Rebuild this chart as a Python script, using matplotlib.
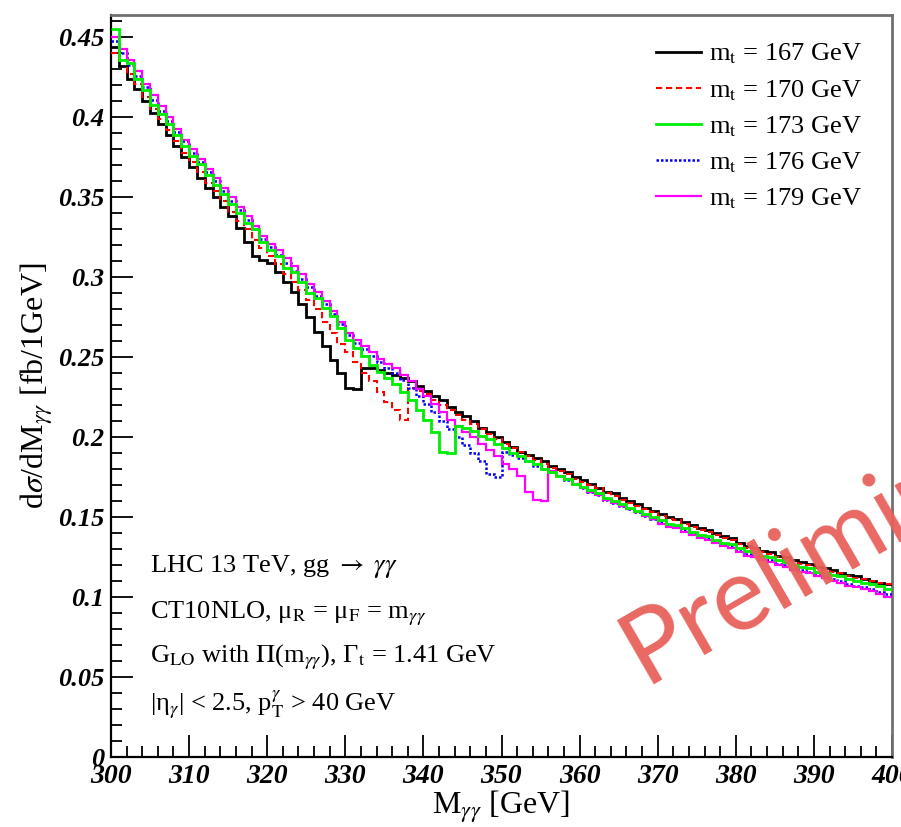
import numpy as np
import matplotlib
matplotlib.use("Agg")
import matplotlib.pyplot as plt
from matplotlib.ticker import MultipleLocator, FuncFormatter

plt.rcParams['font.family'] = ['Liberation Serif', 'DejaVu Serif']
plt.rcParams['mathtext.fontset'] = 'stix'

# ---------------- data (1 GeV bins, 300..400 GeV) ----------------
bin_edges_start = 300
bin_edges_stop = 400

mt167 = [0.444, 0.432, 0.424, 0.418, 0.410, 0.403, 0.396, 0.389, 0.382, 0.375,
         0.369, 0.362, 0.356, 0.350, 0.344, 0.338, 0.331, 0.322, 0.313, 0.311,
         0.309, 0.303, 0.297, 0.291, 0.283, 0.275, 0.266, 0.257, 0.248, 0.240,
         0.231, 0.230, 0.243, 0.243, 0.242, 0.240, 0.239, 0.237, 0.235, 0.232,
         0.229, 0.226, 0.223, 0.219, 0.216, 0.213, 0.210, 0.206, 0.203, 0.200,
         0.197, 0.194, 0.191, 0.189, 0.187, 0.185, 0.182, 0.180, 0.178, 0.175,
         0.173, 0.171, 0.168, 0.166, 0.165, 0.162, 0.160, 0.158, 0.156, 0.154,
         0.152, 0.150, 0.149, 0.147, 0.145, 0.143, 0.142, 0.140, 0.138, 0.137,
         0.134, 0.132, 0.131, 0.129, 0.128, 0.126, 0.125, 0.123, 0.122, 0.121,
         0.119, 0.118, 0.117, 0.115, 0.114, 0.113, 0.111, 0.110, 0.109, 0.108]

mt170 = [0.440, 0.436, 0.427, 0.421, 0.413, 0.405, 0.399, 0.392, 0.385, 0.378,
         0.372, 0.366, 0.359, 0.354, 0.348, 0.341, 0.335, 0.330, 0.323, 0.318,
         0.313, 0.308, 0.302, 0.297, 0.292, 0.286, 0.280, 0.272, 0.265, 0.258,
         0.253, 0.247, 0.240, 0.235, 0.228, 0.222, 0.217, 0.211, 0.231, 0.229,
         0.227, 0.223, 0.220, 0.217, 0.214, 0.211, 0.208, 0.205, 0.202, 0.199,
         0.196, 0.193, 0.191, 0.188, 0.186, 0.183, 0.181, 0.179, 0.177, 0.174,
         0.172, 0.170, 0.168, 0.165, 0.163, 0.161, 0.159, 0.157, 0.155, 0.153,
         0.151, 0.149, 0.148, 0.146, 0.144, 0.142, 0.141, 0.139, 0.137, 0.136,
         0.133, 0.131, 0.130, 0.128, 0.127, 0.125, 0.124, 0.122, 0.121, 0.120,
         0.118, 0.117, 0.116, 0.115, 0.113, 0.112, 0.111, 0.110, 0.109, 0.108]

mt173 = [0.455, 0.436, 0.434, 0.424, 0.417, 0.408, 0.402, 0.396, 0.389, 0.382,
         0.376, 0.371, 0.364, 0.358, 0.352, 0.346, 0.340, 0.334, 0.330, 0.322,
         0.317, 0.313, 0.306, 0.303, 0.297, 0.290, 0.287, 0.281, 0.276, 0.268,
         0.261, 0.256, 0.251, 0.245, 0.241, 0.237, 0.233, 0.228, 0.223, 0.217,
         0.211, 0.203, 0.191, 0.190, 0.207, 0.206, 0.204, 0.201, 0.199, 0.196,
         0.193, 0.190, 0.188, 0.185, 0.183, 0.180, 0.178, 0.176, 0.174, 0.171,
         0.169, 0.167, 0.165, 0.162, 0.160, 0.158, 0.156, 0.154, 0.152, 0.150,
         0.148, 0.146, 0.145, 0.143, 0.141, 0.139, 0.138, 0.136, 0.134, 0.133,
         0.131, 0.129, 0.128, 0.126, 0.125, 0.123, 0.122, 0.120, 0.119, 0.118,
         0.116, 0.115, 0.114, 0.113, 0.111, 0.110, 0.109, 0.108, 0.107, 0.105]

mt176 = [0.448, 0.440, 0.433, 0.426, 0.419, 0.411, 0.404, 0.398, 0.391, 0.385,
         0.378, 0.372, 0.366, 0.360, 0.354, 0.348, 0.342, 0.336, 0.330, 0.324,
         0.319, 0.314, 0.309, 0.304, 0.299, 0.294, 0.288, 0.283, 0.277, 0.271,
         0.264, 0.259, 0.255, 0.251, 0.247, 0.243, 0.240, 0.236, 0.231, 0.226,
         0.221, 0.216, 0.210, 0.205, 0.200, 0.195, 0.190, 0.185, 0.177, 0.175,
         0.191, 0.189, 0.187, 0.185, 0.182, 0.180, 0.178, 0.176, 0.173, 0.171,
         0.168, 0.166, 0.164, 0.161, 0.159, 0.157, 0.155, 0.153, 0.151, 0.149,
         0.147, 0.145, 0.144, 0.142, 0.140, 0.138, 0.137, 0.135, 0.133, 0.132,
         0.129, 0.127, 0.126, 0.124, 0.123, 0.121, 0.120, 0.118, 0.117, 0.116,
         0.114, 0.113, 0.111, 0.110, 0.108, 0.107, 0.106, 0.105, 0.103, 0.102]

mt179 = [0.450, 0.443, 0.436, 0.429, 0.421, 0.414, 0.407, 0.400, 0.393, 0.386,
         0.380, 0.374, 0.368, 0.362, 0.356, 0.350, 0.344, 0.338, 0.332, 0.326,
         0.321, 0.317, 0.312, 0.307, 0.302, 0.296, 0.291, 0.285, 0.279, 0.272,
         0.265, 0.261, 0.257, 0.253, 0.249, 0.246, 0.243, 0.239, 0.235, 0.230,
         0.226, 0.221, 0.216, 0.211, 0.207, 0.203, 0.200, 0.196, 0.192, 0.188,
         0.183, 0.180, 0.176, 0.166, 0.161, 0.160, 0.179, 0.176, 0.174, 0.171,
         0.168, 0.166, 0.164, 0.161, 0.159, 0.157, 0.155, 0.153, 0.151, 0.149,
         0.146, 0.144, 0.143, 0.141, 0.139, 0.137, 0.136, 0.134, 0.132, 0.131,
         0.128, 0.126, 0.125, 0.123, 0.122, 0.120, 0.119, 0.117, 0.116, 0.115,
         0.113, 0.112, 0.110, 0.109, 0.107, 0.106, 0.105, 0.104, 0.102, 0.100]

labels = ["167", "170", "173", "176", "179"]
x_ticks = [300, 310, 320, 330, 340, 350, 360, 370, 380, 390, 400]
y_ticks = [0, 0.05, 0.1, 0.15, 0.2, 0.25, 0.3, 0.35, 0.4, 0.45]

# ---------------- figure ----------------
W, H = 901, 827
fig = plt.figure(figsize=(W / 100, H / 100), dpi=100)
L, R, T, B = 111, 892, 15, 757
ax = fig.add_axes([L / W, 1 - B / H, (R - L) / W, (B - T) / H])

edges = np.arange(bin_edges_start, bin_edges_stop + 1)
series = [mt167, mt170, mt173, mt176, mt179]
colors = ['#000000', '#ff0000', '#00ee00', '#0000ff', '#ff00ff']
styles = ['-', (0, (3.0, 1.8)), '-', (0, (1.0, 0.8)), '-']
widths = [2.0, 1.5, 2.0, 1.8, 1.6]
zorders = [3, 3, 5, 4, 4]

handles = []
for vals, c, ls, lw, z, lab in zip(series, colors, styles, widths, zorders, labels):
    h = ax.stairs(vals, edges, baseline=None, color=c, linestyle=ls,
                  linewidth=lw, zorder=z, label=f"m$_{{\\mathrm{{t}}}}$ = {lab} GeV")
    handles.append(h)

ax.set_xlim(300, 400)
ax.set_ylim(0, 0.464)

ax.xaxis.set_minor_locator(MultipleLocator(2))
ax.yaxis.set_minor_locator(MultipleLocator(0.01))
ax.set_xticks(x_ticks)
ax.set_yticks(y_ticks)
ax.xaxis.set_major_formatter(FuncFormatter(lambda v, p: f"{v:g}"))
ax.yaxis.set_major_formatter(FuncFormatter(lambda v, p: f"{v:g}"))

ax.tick_params(which='both', direction='in', top=False, right=False)
ax.tick_params(which='major', length=16, width=1.3)
ax.tick_params(which='minor', length=8, width=1.3)
ax.tick_params(axis='y', which='major', pad=5)
ax.tick_params(axis='x', which='major', pad=5)
for lbl in ax.get_xticklabels():
    lbl.set_fontsize(20)
    lbl.set_fontstyle('italic')
    lbl.set_fontweight('bold')
for lbl in ax.get_yticklabels():
    lbl.set_fontsize(19)
    lbl.set_fontstyle('italic')
    lbl.set_fontweight('bold')

for s in ['left', 'bottom']:
    ax.spines[s].set_color('black')
    ax.spines[s].set_linewidth(1.6)
for s in ['top', 'right']:
    ax.spines[s].set_color('#707070')
    ax.spines[s].set_linewidth(2.0)

ax.set_xlabel(r"M$_{\gamma\gamma}$ [GeV]", fontsize=23, labelpad=0)
ax.set_ylabel(r"d$\sigma$/dM$_{\gamma\gamma}$ [fb/1GeV]", fontsize=23, labelpad=2)

leg = ax.legend(handles=handles, loc='upper right', bbox_to_anchor=(0.975, 0.978),
                frameon=False, fontsize=19, handlelength=1.7, handletextpad=0.3,
                labelspacing=0.44, borderaxespad=0.0)

info = [
    r"LHC 13 TeV, gg $\rightarrow$ $\gamma\gamma$",
    r"CT10NLO, μ$_{\mathrm{R}}$ = μ$_{\mathrm{F}}$ = m$_{\gamma\gamma}$",
    r"G$_{\mathrm{LO}}$ with $\Pi$(m$_{\gamma\gamma}$), Γ$_{\mathrm{t}}$ = 1.41 GeV",
    r"|η$_{\gamma}$| < 2.5, p$_{\mathrm{T}}^{\gamma}$ > 40 GeV",
]
ybase = [0.249, 0.187, 0.127, 0.063]
for t, yb in zip(info, ybase):
    ax.text(0.05, yb, t, transform=ax.transAxes, fontsize=19,
            ha='left', va='baseline')

fig.text(645 / W, 1 - 684 / H, "Preliminary", fontsize=74, family='Lato',
         color='#e8605a', alpha=0.95, rotation=30, rotation_mode='anchor',
         ha='left', va='baseline', zorder=10)

fig.savefig("out.png", dpi=100)
